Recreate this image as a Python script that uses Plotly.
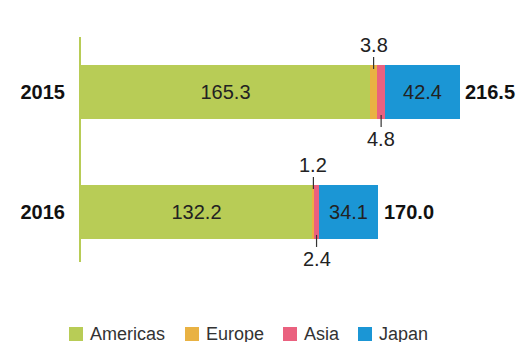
import plotly.graph_objects as go

# Sales by region (billions), stacked per year
years = ["2015", "2016"]
regions = ["Americas", "Europe", "Asia", "Japan"]
americas = [165.3, 132.2]
europe = [3.8, 1.2]
asia = [4.8, 2.4]
japan = [42.4, 34.1]
totals = [216.5, 170.0]

colors = {
    "Americas": "#b8cc56",
    "Europe": "#e9b243",
    "Asia": "#ea617f",
    "Japan": "#1b96d5",
}

FONT = "Liberation Sans, Arial, Helvetica, sans-serif"
ypos = [1, 0]  # 2015 on top, 2016 below
BAR_W = 0.45

# plot-area geometry (pixels) used to place the key below the chart
W, H = 519, 342
ML, MR, MT, MB = 81, 4, 37, 80
PW, PH = W - ML - MR, H - MT - MB

series = {"Americas": americas, "Europe": europe, "Asia": asia, "Japan": japan}
inside_labelled = {"Americas", "Japan"}

fig = go.Figure()
for name in regions:
    vals = series[name]
    fig.add_trace(go.Bar(
        name=name,
        y=ypos,
        x=vals,
        orientation="h",
        width=BAR_W,
        marker=dict(color=colors[name], line=dict(width=0)),
        text=[f"{v:.1f}" for v in vals] if name in inside_labelled else None,
        textposition="inside" if name in inside_labelled else "none",
        insidetextanchor="middle",
        textfont=dict(family=FONT, size=20, color="#222222"),
        hoverinfo="skip",
        showlegend=False,
    ))

annotations = []
shapes = []

# Totals to the right of each bar
for y, t in zip(ypos, totals):
    annotations.append(dict(
        x=t, y=y, xref="x", yref="y", text=f"<b>{t:.1f}</b>",
        showarrow=False, xanchor="left", yanchor="middle", xshift=3,
        font=dict(family=FONT, size=20, color="#111111"),
    ))

# Callouts for the thin Europe (above) and Asia (below) segments
for i, y in enumerate(ypos):
    e_mid = americas[i] + europe[i] / 2
    a_mid = americas[i] + europe[i] + asia[i] / 2
    for xm, val, sign in ((e_mid, europe[i], 1), (a_mid, asia[i], -1)):
        shapes.append(dict(
            type="line", xref="x", yref="y", ysizemode="pixel", yanchor=y,
            x0=xm, x1=xm, y0=sign * 23, y1=sign * 35,
            line=dict(color="#333333", width=1.2),
        ))
        annotations.append(dict(
            x=xm, y=y, xref="x", yref="y", text=f"{val:.1f}",
            showarrow=False, xanchor="center", yanchor="middle",
            yshift=sign * 47,
            font=dict(family=FONT, size=20, color="#222222"),
        ))

# Key along the bottom: colour square followed by region name
key_left = [69, 185, 283, 358]   # left edge of each square, px
key_mid = 334                    # vertical centre of the key row, px
SQ = 14


def px_x(px):
    return (px - ML) / PW


def px_y(py):
    return (H - MB - py) / PH


for name, left in zip(regions, key_left):
    shapes.append(dict(
        type="rect", xref="paper", yref="paper",
        x0=px_x(left), x1=px_x(left + SQ),
        y0=px_y(key_mid + SQ / 2), y1=px_y(key_mid - SQ / 2),
        fillcolor=colors[name], line=dict(width=0),
    ))
    annotations.append(dict(
        x=px_x(left + SQ + 5), y=px_y(key_mid), xref="paper", yref="paper",
        text=name, showarrow=False, xanchor="left", yanchor="middle",
        font=dict(family=FONT, size=18, color="#333333"),
    ))

fig.update_layout(
    width=W, height=H,
    barmode="stack",
    bargap=0,
    plot_bgcolor="white", paper_bgcolor="white",
    margin=dict(l=ML, r=MR, t=MT, b=MB),
    xaxis=dict(range=[0, 248], showticklabels=False, showgrid=False,
               zeroline=False, showline=False, fixedrange=True),
    yaxis=dict(range=[-0.417, 1.458], tickvals=ypos,
               ticktext=[f"<b>{y}</b>" for y in years],
               tickfont=dict(family=FONT, size=20, color="#111111"),
               showgrid=False, zeroline=False, showline=True,
               linecolor=colors["Americas"], linewidth=2,
               ticks="", ticklabelstandoff=10, fixedrange=True),
    showlegend=False,
    annotations=annotations,
    shapes=shapes,
)

fig.write_html("out.html")
